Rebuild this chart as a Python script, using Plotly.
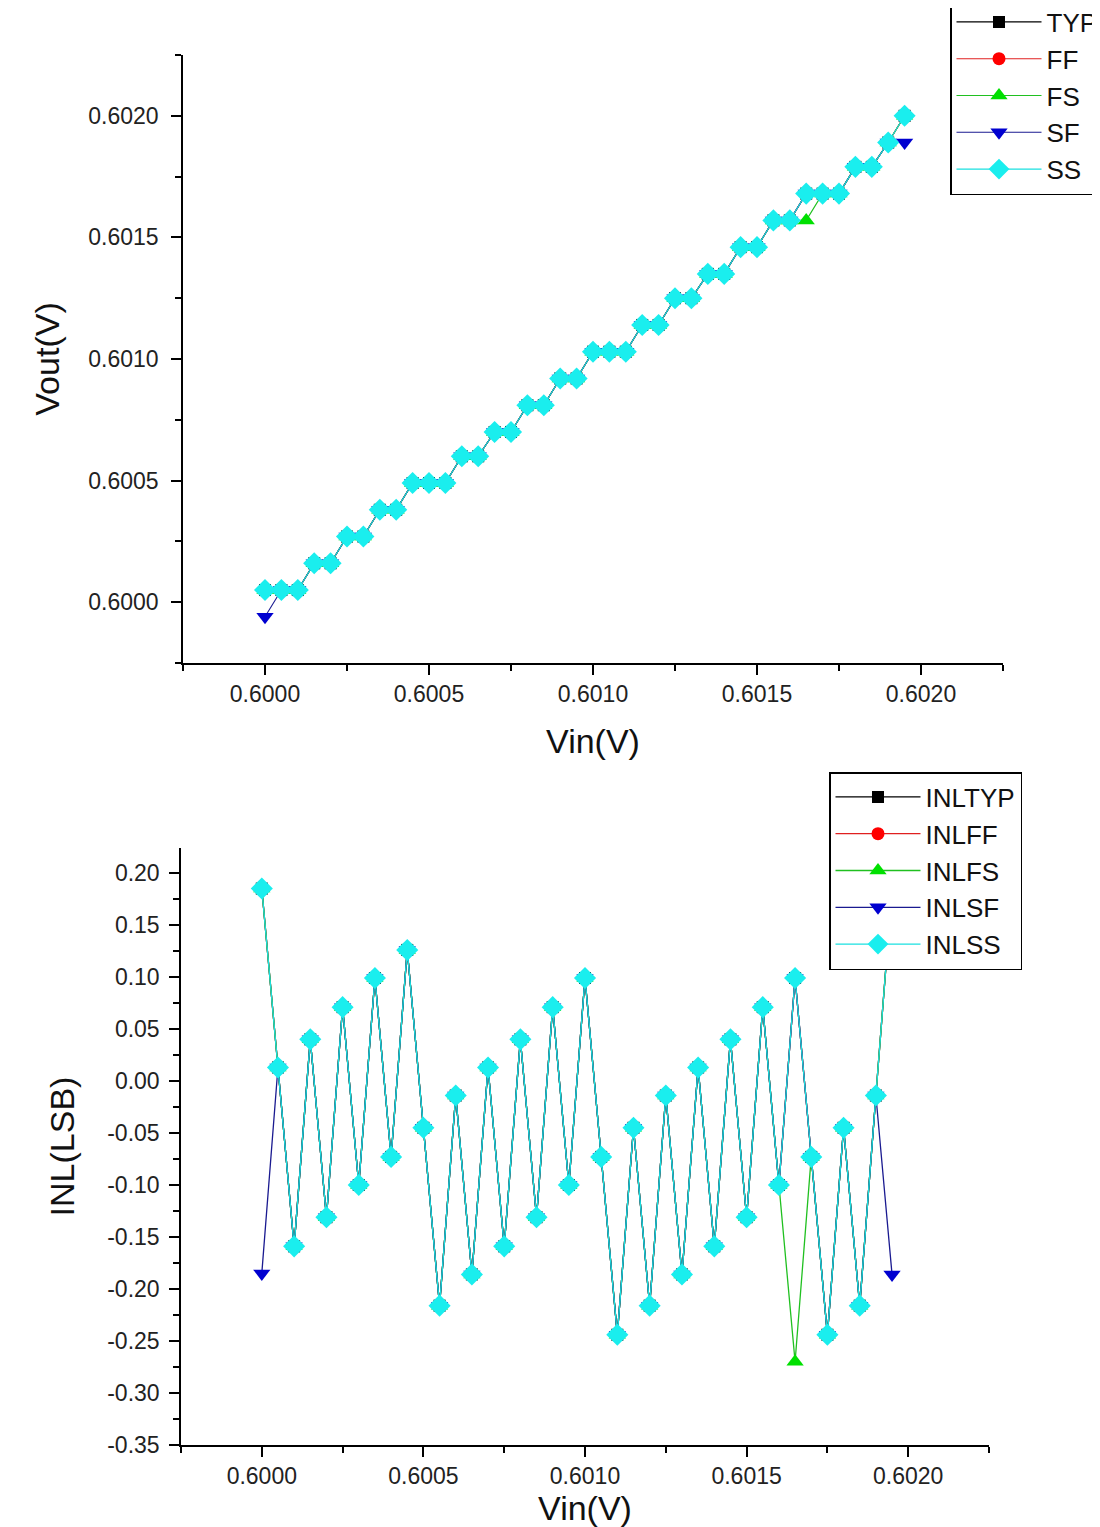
import plotly.graph_objects as go

# ---------------- data ----------------
vin = [0.60000, 0.60005, 0.60010, 0.60015, 0.60020, 0.60025, 0.60030, 0.60035, 0.60040, 0.60045,
       0.60050, 0.60055, 0.60060, 0.60065, 0.60070, 0.60075, 0.60080, 0.60085, 0.60090, 0.60095,
       0.60100, 0.60105, 0.60110, 0.60115, 0.60120, 0.60125, 0.60130, 0.60135, 0.60140, 0.60145,
       0.60150, 0.60155, 0.60160, 0.60165, 0.60170, 0.60175, 0.60180, 0.60185, 0.60190, 0.60195]

vout_typ = [0.60005, 0.60005, 0.60005, 0.60016, 0.60016, 0.60027, 0.60027, 0.60038, 0.60038, 0.60049,
            0.60049, 0.60049, 0.60060, 0.60060, 0.60070, 0.60070, 0.60081, 0.60081, 0.60092, 0.60092,
            0.60103, 0.60103, 0.60103, 0.60114, 0.60114, 0.60125, 0.60125, 0.60135, 0.60135, 0.60146,
            0.60146, 0.60157, 0.60157, 0.60168, 0.60168, 0.60168, 0.60179, 0.60179, 0.60189, 0.60200]
vout_ff = [0.60005, 0.60005, 0.60005, 0.60016, 0.60016, 0.60027, 0.60027, 0.60038, 0.60038, 0.60049,
           0.60049, 0.60049, 0.60060, 0.60060, 0.60070, 0.60070, 0.60081, 0.60081, 0.60092, 0.60092,
           0.60103, 0.60103, 0.60103, 0.60114, 0.60114, 0.60125, 0.60125, 0.60135, 0.60135, 0.60146,
           0.60146, 0.60157, 0.60157, 0.60168, 0.60168, 0.60168, 0.60179, 0.60179, 0.60189, 0.60200]
vout_fs = [0.60005, 0.60005, 0.60005, 0.60016, 0.60016, 0.60027, 0.60027, 0.60038, 0.60038, 0.60049,
           0.60049, 0.60049, 0.60060, 0.60060, 0.60070, 0.60070, 0.60081, 0.60081, 0.60092, 0.60092,
           0.60103, 0.60103, 0.60103, 0.60114, 0.60114, 0.60125, 0.60125, 0.60135, 0.60135, 0.60146,
           0.60146, 0.60157, 0.60157, 0.60157, 0.60168, 0.60168, 0.60179, 0.60179, 0.60189, 0.60200]
vout_sf = [0.59994, 0.60005, 0.60005, 0.60016, 0.60016, 0.60027, 0.60027, 0.60038, 0.60038, 0.60049,
           0.60049, 0.60049, 0.60060, 0.60060, 0.60070, 0.60070, 0.60081, 0.60081, 0.60092, 0.60092,
           0.60103, 0.60103, 0.60103, 0.60114, 0.60114, 0.60125, 0.60125, 0.60135, 0.60135, 0.60146,
           0.60146, 0.60157, 0.60157, 0.60168, 0.60168, 0.60168, 0.60179, 0.60179, 0.60189, 0.60189]
vout_ss = [0.60005, 0.60005, 0.60005, 0.60016, 0.60016, 0.60027, 0.60027, 0.60038, 0.60038, 0.60049,
           0.60049, 0.60049, 0.60060, 0.60060, 0.60070, 0.60070, 0.60081, 0.60081, 0.60092, 0.60092,
           0.60103, 0.60103, 0.60103, 0.60114, 0.60114, 0.60125, 0.60125, 0.60135, 0.60135, 0.60146,
           0.60146, 0.60157, 0.60157, 0.60168, 0.60168, 0.60168, 0.60179, 0.60179, 0.60189, 0.60200]

inl_typ = [0.185, 0.013, -0.159, 0.040, -0.131, 0.071, -0.100, 0.099, -0.073, 0.126,
           -0.045, -0.216, -0.014, -0.186, 0.013, -0.159, 0.040, -0.131, 0.071, -0.100,
           0.099, -0.073, -0.244, -0.045, -0.216, -0.014, -0.186, 0.013, -0.159, 0.040,
           -0.131, 0.071, -0.100, 0.099, -0.073, -0.244, -0.045, -0.216, -0.014, 0.185]
inl_ff = [0.185, 0.013, -0.159, 0.040, -0.131, 0.071, -0.100, 0.099, -0.073, 0.126,
          -0.045, -0.216, -0.014, -0.186, 0.013, -0.159, 0.040, -0.131, 0.071, -0.100,
          0.099, -0.073, -0.244, -0.045, -0.216, -0.014, -0.186, 0.013, -0.159, 0.040,
          -0.131, 0.071, -0.100, 0.099, -0.073, -0.244, -0.045, -0.216, -0.014, 0.185]
inl_fs = [0.185, 0.013, -0.159, 0.040, -0.131, 0.071, -0.100, 0.099, -0.073, 0.126,
          -0.045, -0.216, -0.014, -0.186, 0.013, -0.159, 0.040, -0.131, 0.071, -0.100,
          0.099, -0.073, -0.244, -0.045, -0.216, -0.014, -0.186, 0.013, -0.159, 0.040,
          -0.131, 0.071, -0.100, -0.270, -0.073, -0.244, -0.045, -0.216, -0.014, 0.185]
inl_sf = [-0.185, 0.013, -0.159, 0.040, -0.131, 0.071, -0.100, 0.099, -0.073, 0.126,
          -0.045, -0.216, -0.014, -0.186, 0.013, -0.159, 0.040, -0.131, 0.071, -0.100,
          0.099, -0.073, -0.244, -0.045, -0.216, -0.014, -0.186, 0.013, -0.159, 0.040,
          -0.131, 0.071, -0.100, 0.099, -0.073, -0.244, -0.045, -0.216, -0.014, -0.186]
inl_ss = [0.185, 0.013, -0.159, 0.040, -0.131, 0.071, -0.100, 0.099, -0.073, 0.126,
          -0.045, -0.216, -0.014, -0.186, 0.013, -0.159, 0.040, -0.131, 0.071, -0.100,
          0.099, -0.073, -0.244, -0.045, -0.216, -0.014, -0.186, 0.013, -0.159, 0.040,
          -0.131, 0.071, -0.100, 0.099, -0.073, -0.244, -0.045, -0.216, -0.014, 0.185]

top_names = ["TYP", "FF", "FS", "SF", "SS"]
bot_names = ["INLTYP", "INLFF", "INLFS", "INLSF", "INLSS"]

x_tickvals = [0.6000, 0.6005, 0.6010, 0.6015, 0.6020]
x_ticktext = ["0.6000", "0.6005", "0.6010", "0.6015", "0.6020"]
y1_tickvals = [0.6000, 0.6005, 0.6010, 0.6015, 0.6020]
y1_ticktext = ["0.6000", "0.6005", "0.6010", "0.6015", "0.6020"]
y2_tickvals = [0.20, 0.15, 0.10, 0.05, 0.00, -0.05, -0.10, -0.15, -0.20, -0.25, -0.30, -0.35]
y2_ticktext = ["0.20", "0.15", "0.10", "0.05", "0.00", "-0.05", "-0.10", "-0.15",
               "-0.20", "-0.25", "-0.30", "-0.35"]
minor_v = [0.59975, 0.60025, 0.60075, 0.60125, 0.60175, 0.60225]

# ---------------- styles ----------------
colors = ["#000000", "#FF0000", "#00E000", "#0000D0", "#1AEEEE"]
line_colors = ["#000000", "#E02020", "#20C020", "#1A1A90", "#1AE0E0"]
symbols = ["square", "circle", "triangle-up", "triangle-down", "diamond"]
sizes = [12, 13, 15, 15, 17]

# page body adds an 8 px margin; the figure is sized to fit the 1100x1527 window
OFF = 8
W, H = 1100 - OFF, 1527 - OFF
FONT = "Liberation Sans, Arial, sans-serif"

fig = go.Figure()

top_series = [vout_typ, vout_ff, vout_fs, vout_sf, vout_ss]
bot_series = [inl_typ, inl_ff, inl_fs, inl_sf, inl_ss]

for k in range(5):
    fig.add_trace(go.Scatter(
        x=vin, y=top_series[k], name=top_names[k], mode="lines+markers",
        line=dict(color=line_colors[k], width=1.1),
        marker=dict(symbol=symbols[k], size=sizes[k], color=colors[k], line=dict(width=0)),
        xaxis="x", yaxis="y", legend="legend", legendgroup="t%d" % k,
    ))
for k in range(5):
    fig.add_trace(go.Scatter(
        x=vin, y=bot_series[k], name=bot_names[k], mode="lines+markers",
        line=dict(color=line_colors[k], width=1.3),
        marker=dict(symbol=symbols[k], size=sizes[k], color=colors[k], line=dict(width=0)),
        xaxis="x2", yaxis="y2", legend="legend2", legendgroup="b%d" % k,
    ))

def px_x(p):
    return (p - OFF) / W

def px_y(p):
    return 1 - (p - OFF) / H

common_axis = dict(
    showline=True, linecolor="black", linewidth=1.5, mirror=False,
    showgrid=False, zeroline=False, ticks="outside", ticklen=10, tickwidth=1.5,
    tickcolor="black", automargin=False,
)
minor_style = dict(ticks="outside", ticklen=6, tickwidth=1.5, tickcolor="black")
title_font = dict(size=34, color="#111111")

fig.update_layout(
    width=W, height=H,
    margin=dict(l=0, r=0, t=0, b=0, autoexpand=False),
    paper_bgcolor="white", plot_bgcolor="white",
    font=dict(family=FONT, color="#222222"),
    xaxis=dict(
        domain=[px_x(183), px_x(1003)], anchor="y",
        range=[0.59975, 0.60225], tickvals=x_tickvals, ticktext=x_ticktext,
        tickfont=dict(size=23),
        minor=dict(tickvals=minor_v, **minor_style),
        title=dict(text="Vin(V)", font=title_font, standoff=23),
        **common_axis,
    ),
    yaxis=dict(
        domain=[px_y(663), px_y(55)], anchor="x",
        range=[0.59975, 0.60225], tickvals=y1_tickvals, ticktext=y1_ticktext,
        tickfont=dict(size=23), ticklabelstandoff=8,
        minor=dict(tickvals=minor_v, **minor_style),
        title=dict(text="Vout(V)", font=title_font, standoff=18),
        **common_axis,
    ),
    xaxis2=dict(
        domain=[px_x(181), px_x(989)], anchor="y2",
        range=[0.59975, 0.60225], tickvals=x_tickvals, ticktext=x_ticktext,
        tickfont=dict(size=23),
        minor=dict(tickvals=minor_v, **minor_style),
        title=dict(text="Vin(V)", font=title_font, standoff=42),
        **common_axis,
    ),
    yaxis2=dict(
        domain=[px_y(1445), px_y(848)], anchor="x2",
        range=[-0.35, 0.224], tickvals=y2_tickvals, ticktext=y2_ticktext,
        tickfont=dict(size=23), ticklabelstandoff=5,
        minor=dict(dtick=0.025, tick0=0, **minor_style),
        title=dict(text="INL(LSB)", font=title_font, standoff=22),
        **common_axis,
    ),
    legend=dict(
        x=px_x(950), y=px_y(-3), xanchor="left", yanchor="top",
        bordercolor="black", borderwidth=1.5, bgcolor="white",
        font=dict(size=26, color="#111111"), tracegroupgap=0, itemwidth=85,
    ),
    legend2=dict(
        x=px_x(829), y=px_y(772), xanchor="left", yanchor="top",
        bordercolor="black", borderwidth=1.5, bgcolor="white",
        font=dict(size=26, color="#111111"), tracegroupgap=0, itemwidth=85,
    ),
    showlegend=True,
)

fig.write_html("out.html")
